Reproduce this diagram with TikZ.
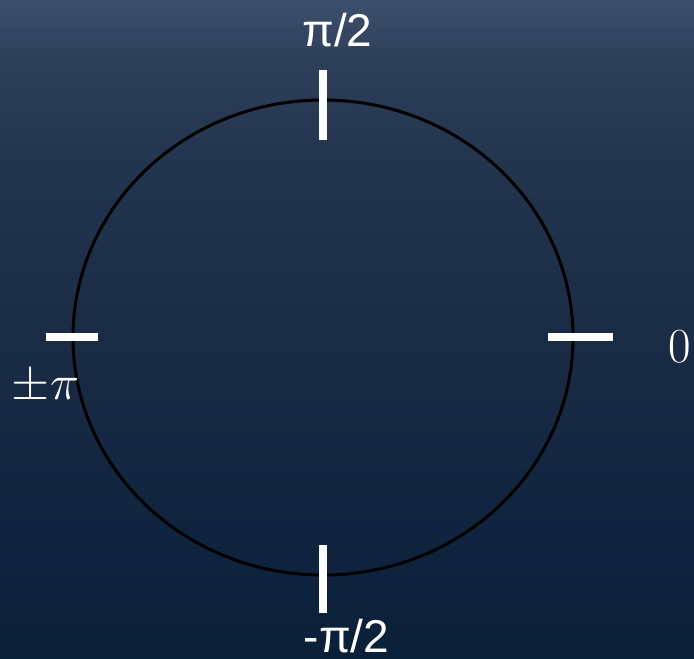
\RequirePackage{fix-cm}
\documentclass[tikz,border=0pt]{standalone}
\usepackage{fontspec}
\usetikzlibrary{shapes.geometric}
\newfontfamily\labelsans{Liberation Sans}
\definecolor{bgA}{HTML}{0A1F38}
\definecolor{bgB}{HTML}{0F233E}
\definecolor{bgC}{HTML}{1A2B45}
\definecolor{bgD}{HTML}{243550}
\definecolor{bgE}{HTML}{2E3F59}
\definecolor{bgF}{HTML}{3C506D}
\pgfdeclareverticalshading{bgshade}{100bp}{color(0bp)=(bgA); color(25bp)=(bgA); color(32.5bp)=(bgB); color(49.5bp)=(bgC); color(63.5bp)=(bgD); color(70.5bp)=(bgE); color(75bp)=(bgF); color(100bp)=(bgF)}
\tikzset{
  tick/.style={draw=white, line width=8.5pt},
  ring/.style={draw=black, line width=3pt},
  sanslabel/.style={text=white, font=\labelsans\fontsize{46}{54}\selectfont, inner sep=0pt, anchor=base},
  mathlabel/.style={text=white, font=\fontsize{49}{58}\selectfont, inner sep=0pt, anchor=base}
}
\begin{document}
\begin{tikzpicture}[x=1pt,y=-1pt]
\shade[shading=bgshade] (0,0) rectangle (694,659);
\useasboundingbox (0,0) rectangle (694,659);
\node[ring, ellipse, minimum width=500pt, minimum height=475pt, inner sep=0pt] (circ) at (323,337.5) {};
\coordinate (t1) at (323,70);  \coordinate (t2) at (323,140);
\coordinate (b1) at (323,545); \coordinate (b2) at (323,613);
\coordinate (l1) at (46,337);  \coordinate (l2) at (98,337);
\coordinate (r1) at (548,337); \coordinate (r2) at (613,337);
\draw[tick] (t1) -- (t2);
\draw[tick] (b1) -- (b2);
\draw[tick] (l1) -- (l2);
\draw[tick] (r1) -- (r2);
\node[sanslabel] (ltop) at (337.5,46) {π/2};
\node[sanslabel] (lbot) at (346.5,652) {-π/2};
\node[mathlabel] (lright) at (679.5,362.5) {$0$};
\node[mathlabel] (lleft) at (45.5,399.5) {$\pm\pi$};
\end{tikzpicture}
\end{document}
